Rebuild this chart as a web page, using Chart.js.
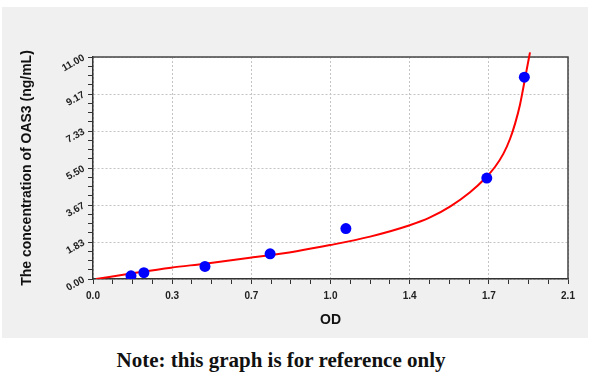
<!DOCTYPE html>
<html>
<head>
<meta charset="utf-8">
<script src="https://cdn.jsdelivr.net/npm/chart.js@4"></script>
<style>
  html, body { margin: 0; padding: 0; background: #fff; }
  body { width: 600px; height: 379px; position: relative; overflow: hidden; }
  #panel { position: absolute; left: 2px; top: 7px; width: 586px; height: 331px; background: #f0f0f0; }
  #note { position: absolute; left: 0; top: 348px; width: 562px; text-align: center;
          font: bold 21px "Liberation Serif", serif; line-height: 24px; color: #111; }
</style>
</head>
<body>
<div id="panel"><canvas id="chart" width="586" height="331"></canvas></div>
<div id="note">Note: this graph is for reference only</div>
<script>
// standard points (OD vs concentration)
const odValues = [0.168, 0.225, 0.495, 0.783, 1.118, 1.741, 1.907];
const concValues = [0.156, 0.312, 0.625, 1.25, 2.5, 5, 10];

// fitted curve
const curveOD = [0.013, 0.168, 0.345, 0.495, 0.694, 0.900, 1.048, 1.225, 1.397, 1.490, 1.580,
  1.667, 1.733, 1.777, 1.814, 1.844, 1.866, 1.888, 1.902, 1.917, 1.932];
const curveConc = [0.00, 0.27, 0.56, 0.76, 1.05, 1.38, 1.68, 2.10, 2.65, 3.05, 3.60,
  4.30, 4.98, 5.55, 6.20, 6.95, 7.70, 8.65, 9.45, 10.35, 11.23];

// axis ticks
const xTickValues = [0, 0.35, 0.7, 1.05, 1.4, 1.75, 2.1];
const xTickLabels = ['0.0', '0.3', '0.7', '1.0', '1.4', '1.7', '2.1'];
const yTickValues = [0, 11 / 6, 22 / 6, 5.5, 44 / 6, 55 / 6, 11];
const yTickLabels = ['0.00', '1.83', '3.67', '5.50', '7.33', '9.17', '11.00'];

const FONT = "'Liberation Sans', Arial, sans-serif";

// major ticks plus 3 minor ticks between each pair
function buildTicks(values, labels) {
  const out = [];
  for (let i = 0; i < values.length; i++) {
    out.push({ value: values[i], main: true, lbl: labels[i] });
    if (i < values.length - 1) {
      const step = (values[i + 1] - values[i]) / 4;
      for (let k = 1; k < 4; k++) out.push({ value: values[i] + k * step, main: false, lbl: '' });
    }
  }
  return out;
}

function axisOptions(values, labels, title) {
  return {
    type: 'linear',
    min: values[0],
    max: values[values.length - 1],
    afterBuildTicks: scale => { scale.ticks = buildTicks(values, labels); },
    ticks: {
      autoSkip: false,
      color: '#222',
      font: { family: FONT, size: 10, weight: 'bold' },
      callback: (v, i, ticks) => ticks[i].lbl
    },
    grid: {
      color: c => (c.tick && c.tick.main) ? '#c4c4c4' : 'rgba(0,0,0,0)',
      lineWidth: 1,
      tickColor: '#333',
      tickLength: 5,
      tickWidth: 1,
      tickBorderDash: []
    },
    border: { display: true, color: '#333', width: 1.5, dash: [2, 2] },
    title: {
      display: true,
      text: title,
      color: '#111',
      font: { family: FONT, size: 14, weight: 'bold' }
    }
  };
}

const plotFrame = {
  id: 'plotFrame',
  beforeDraw(chart) {
    const { ctx, chartArea: a } = chart;
    ctx.save();
    ctx.fillStyle = '#ffffff';
    ctx.fillRect(a.left, a.top, a.right - a.left, a.bottom - a.top);
    ctx.restore();
  },
  beforeDatasetsDraw(chart) {
    const { ctx, chartArea: a } = chart;
    ctx.save();
    ctx.strokeStyle = '#444';
    ctx.lineWidth = 1.5;
    ctx.beginPath();
    ctx.moveTo(a.left, a.top);
    ctx.lineTo(a.right, a.top);
    ctx.lineTo(a.right, a.bottom);
    ctx.stroke();
    ctx.restore();
  }
};

const xAxis = axisOptions(xTickValues, xTickLabels, 'OD');
xAxis.ticks.padding = 6;
xAxis.ticks.maxRotation = 0;
xAxis.ticks.minRotation = 0;
xAxis.title.padding = { top: 0, bottom: 9 };
xAxis.afterFit = scale => { scale.height = 59; };

const yAxis = axisOptions(yTickValues, yTickLabels, 'The concentration of OAS3 (ng/mL)');
yAxis.ticks.padding = 4;
yAxis.ticks.minRotation = 30;
yAxis.ticks.maxRotation = 30;
yAxis.title.padding = { top: 17, bottom: 0 };
yAxis.afterFit = scale => { scale.width = 91; };

new Chart(document.getElementById('chart'), {
  type: 'scatter',
  data: {
    datasets: [
      {
        label: 'Standards',
        data: odValues.map((x, i) => ({ x, y: concValues[i] })),
        backgroundColor: '#0000ff',
        borderColor: '#0000ff',
        pointRadius: 5.5,
        pointBorderWidth: 0,
        order: 0
      },
      {
        label: 'Fit',
        type: 'line',
        data: curveOD.map((x, i) => ({ x, y: curveConc[i] })),
        borderColor: '#ff0000',
        borderWidth: 2,
        pointRadius: 0,
        fill: false,
        cubicInterpolationMode: 'monotone',
        clip: { left: 0, top: 8, right: 0, bottom: 0 },
        order: 1
      }
    ]
  },
  options: {
    responsive: false,
    animation: false,
    layout: { padding: { top: 50, right: 20, left: 0, bottom: 0 } },
    plugins: {
      legend: { display: false },
      tooltip: { enabled: false }
    },
    scales: { x: xAxis, y: yAxis }
  },
  plugins: [plotFrame]
});
</script>
</body>
</html>
